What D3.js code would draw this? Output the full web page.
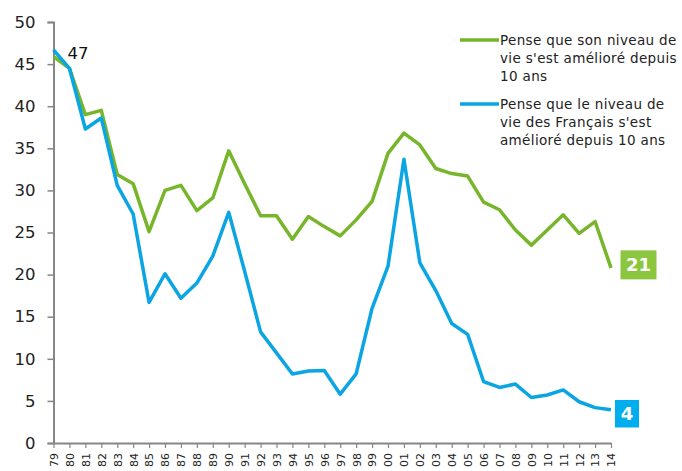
<!DOCTYPE html>
<html><head><meta charset="utf-8">
<script src="https://cdn.jsdelivr.net/npm/d3@7"></script>
<style>body{margin:0;background:#fff}svg{display:block}text{font-family:"DejaVu Sans",Verdana,sans-serif}</style>
</head><body><svg id="c" width="682" height="471"></svg>
<script>
const years = ["79","80","81","82","83","84","85","86","87","88","89","90","91","92","93","94","95","96","97","98","99","00","01","02","03","04","05","06","07","08","09","10","11","12","13","14"];
const sonNiveau = [45.9,44.5,39.0,39.5,31.9,30.8,25.1,30.0,30.6,27.6,29.1,34.7,30.8,27.0,27.0,24.2,26.9,25.7,24.6,26.5,28.7,34.4,36.8,35.4,32.6,32.0,31.7,28.6,27.7,25.3,23.5,25.3,27.1,24.9,26.3,20.8];
const francais = [46.7,44.5,37.3,38.6,30.6,27.2,16.7,20.1,17.2,19.0,22.2,27.4,20.4,13.2,10.7,8.2,8.55,8.6,5.8,8.2,16.0,21.0,33.7,21.4,18.1,14.2,12.9,7.3,6.6,7.0,5.4,5.7,6.3,4.9,4.2,3.95];
const yTicks = [0,5,10,15,20,25,30,35,40,45,50];
const legendSon = ["Pense que son niveau de","vie s'est amélioré depuis","10 ans"];
const legendFr = ["Pense que le niveau de","vie des Français s'est","amélioré depuis 10 ans"];
const firstLabel = "47", endSon = "21", endFr = "4";

const svg = d3.select("#c");
const x = d3.scalePoint().domain(years).range([53.5, 611]);
const y = d3.scaleLinear().domain([0,50]).range([443, 22]);
const GREEN = "#77b52b", BLUE = "#0aa5e2", AXIS = "#868686";

// y axis
const ya = svg.append("g").attr("transform","translate(53.5,0)")
  .call(d3.axisLeft(y).tickValues(yTicks).tickSize(6).tickPadding(12));
ya.select(".domain").attr("stroke",AXIS).attr("stroke-width",2);
ya.selectAll(".tick line").attr("stroke",AXIS).attr("stroke-width",1.5);
ya.selectAll(".tick text").attr("font-size",16.5).attr("fill","#222").attr("font-family","DejaVu Sans, Verdana, sans-serif");

// x axis
const xa = svg.append("g").attr("transform","translate(0,443)")
  .call(d3.axisBottom(x).tickSize(5).tickSizeOuter(0));
xa.select(".domain").attr("stroke",AXIS).attr("stroke-width",2);
xa.selectAll(".tick line").attr("stroke",AXIS).attr("stroke-width",1.2);
xa.selectAll(".tick text").attr("font-size",11).attr("fill","#222")
  .attr("font-family","DejaVu Sans, Verdana, sans-serif")
  .attr("transform","rotate(-90)").attr("text-anchor","end")
  .attr("x",-10).attr("y",0).attr("dy","0.35em");

const line = d3.line().x((d,i)=>x(years[i])).y(d=>y(d));
svg.append("path").datum(sonNiveau).attr("d",line).attr("fill","none")
  .attr("stroke",GREEN).attr("stroke-width",3.5).attr("stroke-linejoin","round");
svg.append("path").datum(francais).attr("d",line).attr("fill","none")
  .attr("stroke",BLUE).attr("stroke-width",3.5).attr("stroke-linejoin","round");

// start label
svg.append("text").attr("x",x(years[0])+14).attr("y",y(francais[0])+9)
  .attr("font-size",16.5).attr("fill","#111").text(firstLabel);

// end labels
function endBox(val, label, color, w, h, dx, dy){
  const cy = y(val) + dy;
  const bx = x(years[years.length-1]) + dx;
  svg.append("rect").attr("x",bx).attr("y",cy-h/2).attr("width",w).attr("height",h).attr("fill",color);
  svg.append("text").attr("x",bx+w/2).attr("y",cy).attr("dy","0.36em").attr("text-anchor","middle")
    .attr("font-size",18).attr("font-weight","bold").attr("fill","#fff").text(label);
}
endBox(sonNiveau[sonNiveau.length-1], endSon, "#8cc63f", 36, 29, 9.5, -3);
endBox(francais[francais.length-1], endFr, "#00aeef", 24, 27.5, 4, 4);

// legend
function legend(lines, color, y0){
  svg.append("line").attr("x1",460).attr("x2",499).attr("y1",y0).attr("y2",y0)
    .attr("stroke",color).attr("stroke-width",3.5);
  const t = svg.append("text").attr("x",500).attr("y",y0).attr("font-size",13.5)
    .attr("letter-spacing","0.35px").attr("fill","#222");
  lines.forEach((l,i)=>t.append("tspan").attr("x",500).attr("y",y0+i*18).attr("dy","0.35em").text(l));
}
legend(legendSon, GREEN, 40);
legend(legendFr, BLUE, 104);
</script></body></html>
